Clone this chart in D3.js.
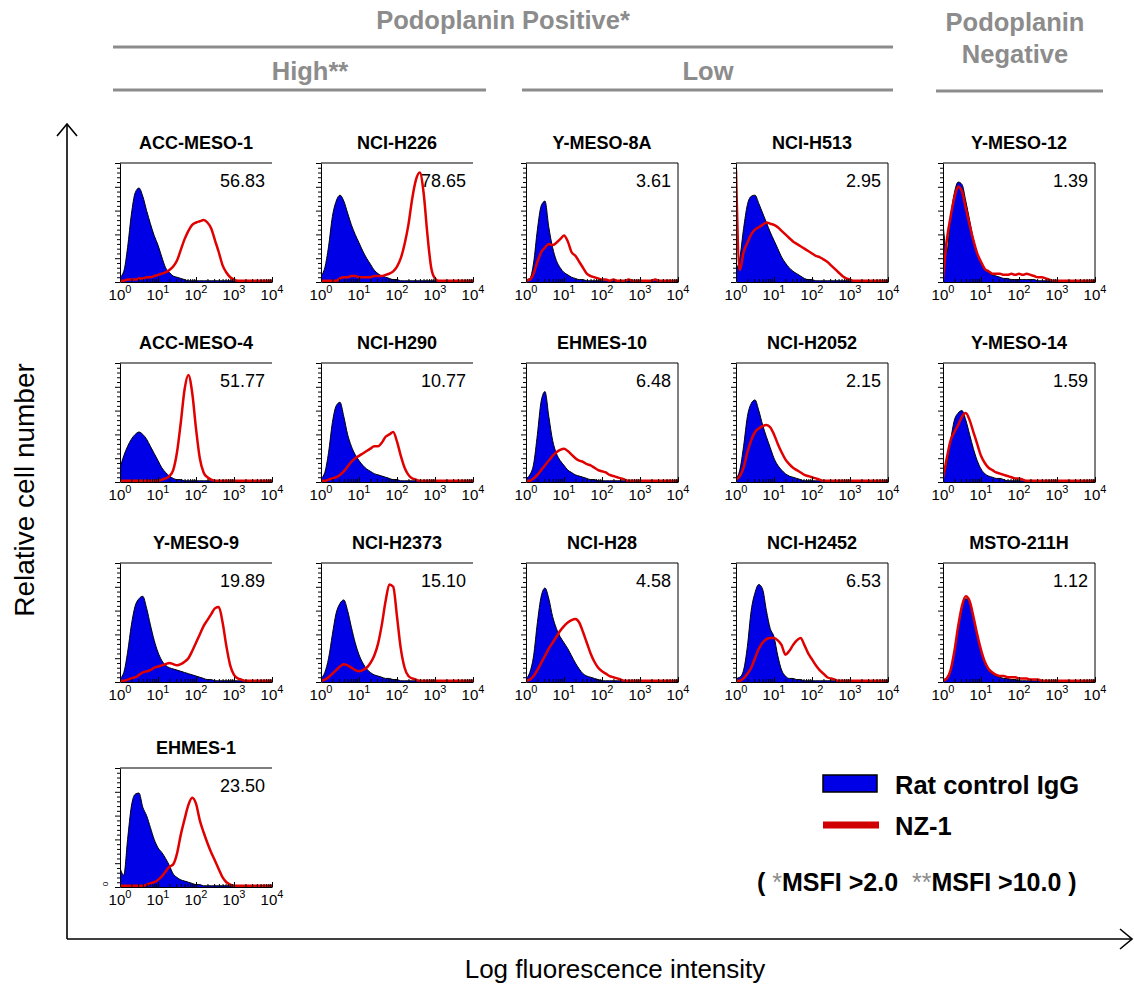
<!DOCTYPE html>
<html>
<head>
<meta charset="utf-8">
<script src="https://cdn.jsdelivr.net/npm/d3@7/dist/d3.min.js"></script>
<style>
	body { margin: 0; background: #fff; }
	svg { display: block; font-family: Arial, "Liberation Sans", sans-serif; }
</style>
</head>
<body>
<div id="chart"></div>
<script>
// cell lines, in reading order (3 rows of 5, then EHMES-1 alone)
var cellLines = [
	'ACC-MESO-1', 'NCI-H226', 'Y-MESO-8A', 'NCI-H513', 'Y-MESO-12',
	'ACC-MESO-4', 'NCI-H290', 'EHMES-10', 'NCI-H2052', 'Y-MESO-14',
	'Y-MESO-9', 'NCI-H2373', 'NCI-H28', 'NCI-H2452', 'MSTO-211H',
	'EHMES-1'
];

var msfiValues = [
	'56.83', '78.65', '3.61', '2.95', '1.39',
	'51.77', '10.77', '6.48', '2.15', '1.59',
	'19.89', '15.10', '4.58', '6.53', '1.12',
	'23.50'
];

// bin positions, log10 of fluorescence
var logBins = [
	0, 0.1, 0.2, 0.3, 0.4, 0.5, 0.6, 0.7, 0.8, 0.9,
	1, 1.1, 1.2, 1.3, 1.4, 1.5, 1.6, 1.7, 1.8, 1.9,
	2, 2.1, 2.2, 2.3, 2.4, 2.5, 2.6, 2.7, 2.8, 2.9,
	3, 3.1, 3.2, 3.3, 3.4, 3.5, 3.6, 3.7, 3.8, 3.9,
	4
];

var decadeTicks = [1, 10, 100, 1000, 10000];

// rat control IgG, % of panel height
var controlIgG = [
	[4,9,29,57,75,79,72,60,49,39, 31,21,12,8,5,4,3,2,1,1, 1,1,1,1,1,1,1,1,1,1, 1,1,1,1,1,1,1,1,1,1, 1],
	[5,12,30,55,68,73,68,58,48,40, 33,26,20,15,10,7,5,4,3,2, 2,1,1,1,1,1,1,1,1,1, 1,1,1,1,1,1,1,1,1,1, 1],
	[2,3,16,44,64,68,46,29,18,12, 8,6,4,3,2,2,1,1,1,1, 1,1,1,1,1,1,1,1,1,1, 1,1,1,1,1,1,1,1,1,1, 1],
	[10,20,45,65,72,73,66,58,50,42, 35,28,21,16,12,9,7,5,3,2, 2,1,1,1,1,1,1,1,1,1, 1,1,1,1,1,1,1,1,1,1, 1],
	[50,25,55,75,84,82,68,52,36,24, 16,11,8,6,5,4,3,3,2,2, 2,2,2,2,2,1,1,1,1,1, 1,1,1,1,1,1,1,1,1,1, 1],
	[12,22,30,36,40,42,40,36,30,24, 18,12,8,5,3,2,2,1,1,1, 1,1,1,1,1,1,1,1,1,1, 1,1,1,1,1,1,1,1,1,1, 1],
	[3,8,25,50,64,67,55,40,30,23, 18,14,11,9,7,6,5,4,3,2, 2,1,1,1,1,1,1,1,1,1, 1,1,1,1,1,1,1,1,1,1, 1],
	[3,6,15,40,68,76,55,35,24,18, 14,10,8,6,5,4,3,2,2,1, 1,1,1,1,1,1,1,1,1,1, 1,1,1,1,1,1,1,1,1,1, 1],
	[3,10,30,55,66,69,60,48,38,29, 20,14,10,7,5,4,3,2,1,1, 1,1,1,1,1,1,1,1,1,1, 1,1,1,1,1,1,1,1,1,1, 1],
	[5,15,35,52,58,60,52,40,28,18, 11,7,5,4,3,3,2,1,1,1, 1,1,1,1,1,1,1,1,1,1, 1,1,1,1,1,1,1,1,1,1, 1],
	[3,8,25,48,64,70,72,62,48,35, 25,18,14,12,11,10,9,8,7,6, 5,4,3,2,2,1,1,1,1,1, 1,1,1,1,1,1,1,1,1,1, 1],
	[3,8,20,40,58,66,69,60,46,33, 23,16,11,8,6,5,4,3,3,2, 2,1,1,1,1,1,1,1,1,1, 1,1,1,1,1,1,1,1,1,1, 1],
	[3,8,22,50,72,79,70,55,45,38, 33,28,22,16,11,7,5,4,3,2, 1,1,1,1,1,1,1,1,1,1, 1,1,1,1,1,1,1,1,1,1, 1],
	[3,4,10,30,60,75,82,78,60,45, 38,22,10,5,3,3,2,2,1,1, 1,1,1,1,1,1,1,1,1,1, 1,1,1,1,1,1,1,1,1,1, 1],
	[2,4,10,25,45,62,70,68,55,40, 26,16,10,7,5,4,3,3,2,2, 1,1,1,1,1,1,1,1,1,1, 1,1,1,1,1,1,1,1,1,1, 1],
	[16,10,40,68,78,79,67,60,50,40, 33,29,24,18,11,8,6,5,4,3, 2,2,1,1,1,1,1,1,1,1, 1,1,1,1,1,1,1,1,1,1, 1]
];

// NZ-1 antibody, % of panel height
var nz1 = [
	[1,1,2,2,2,3,3,4,4,5, 6,7,8,10,13,18,27,36,43,48, 50,51,52,50,45,35,25,14,8,4, 2,1,1,1,1,1,1,1,1,1, 1],
	[1,1,1,1,1,3,4,4,5,5, 4,4,4,4,5,5,5,6,7,9, 13,20,32,48,70,86,92,75,40,12, 3,1,1,1,1,1,1,1,1,1, 1],
	[1,2,7,17,25,29,32,31,33,36, 39,34,25,22,17,12,7,5,4,3, 2,2,1,2,1,1,1,2,1,1, 1,1,1,1,2,1,1,1,1,1, 1],
	[94,10,25,33,40,44,46,48,50,49, 48,46,43,40,37,34,32,30,28,26, 24,22,21,19,17,14,11,8,5,3, 2,1,1,1,1,1,1,1,1,1, 1],
	[2,35,55,71,80,76,62,48,35,24, 17,11,9,7,7,7,6,6,7,6, 7,6,7,6,5,4,4,3,2,1, 1,1,1,1,1,1,1,1,1,1, 1],
	[1,1,1,1,1,1,1,1,1,1, 1,2,3,5,10,25,50,78,90,75, 45,20,8,4,2,1,1,1,1,1, 1,1,1,1,1,1,1,1,1,1, 1],
	[1,1,2,3,4,6,9,13,17,20, 22,24,26,28,30,30,33,38,40,42, 34,22,12,6,3,2,1,1,1,1, 1,1,1,1,1,1,1,1,1,1, 1],
	[1,1,3,6,10,14,18,22,25,27, 28,26,23,20,18,17,15,14,12,10, 9,8,6,5,4,3,2,1,1,1, 1,1,1,1,1,1,1,1,1,1, 1],
	[2,5,12,25,35,42,45,47,48,46, 40,32,25,19,15,12,10,8,6,5, 4,3,2,1,1,1,1,1,1,1, 1,1,1,1,1,1,1,1,1,1, 1],
	[3,20,35,42,48,55,58,52,42,32, 22,16,12,10,8,7,6,5,4,3, 3,2,1,1,1,1,1,1,1,1, 1,1,1,1,1,1,1,1,1,1, 1],
	[1,1,2,3,4,6,8,9,10,12, 13,14,15,16,15,14,15,17,20,26, 33,40,47,52,57,62,63,50,30,14, 6,3,2,1,1,1,1,1,1,1, 1],
	[1,2,4,7,10,13,15,14,12,10, 9,10,12,16,22,32,48,68,82,80, 55,28,12,5,3,2,1,1,1,1, 1,1,1,1,1,1,1,1,1,1, 1],
	[1,2,5,10,16,22,28,33,38,43, 47,50,52,53,50,42,33,24,17,12, 9,7,5,4,3,2,1,1,1,1, 1,1,1,1,1,1,1,1,1,1, 1],
	[1,1,3,7,12,20,28,33,36,37, 37,35,31,23,26,31,35,37,31,24, 19,14,10,7,4,3,2,1,1,1, 1,1,1,1,1,1,1,1,1,1, 1],
	[1,3,10,26,47,64,72,68,55,40, 27,17,11,8,6,5,5,4,4,4, 3,3,3,2,2,2,1,1,1,1, 1,1,1,1,1,1,1,1,1,1, 1],
	[1,1,1,1,1,1,1,2,3,4, 6,9,13,17,19,28,44,57,69,75, 70,56,46,37,29,22,15,8,4,2, 1,1,1,1,1,1,1,1,1,1, 1]
];

var blue = '#0000e6';
var red = '#e00000';
var grey = '#8c8c8c';

var width = 1134;
var height = 985;

// panel grid
var colX = [120, 321, 526, 736, 943];
var rowY = [163, 363, 563, 768];
var panelW = 152;
var panelH = 119;

var svg = d3.select('#chart')
	.append('svg')
	.attr('width', width)
	.attr('height', height);

var xScale = d3.scaleLog()
	.domain([1, 10000])
	.range([0, panelW]);

var yScale = d3.scaleLinear()
	.domain([0, 100])
	.range([panelH, 0]);

function xAt(i) {
	return xScale(Math.pow(10, logBins[i]));
}

var areaGen = d3.area()
	.x(function(d, i) { return xAt(i); })
	.y0(panelH)
	.y1(function(d) { return yScale(d); })
	.curve(d3.curveMonotoneX);

var lineGen = d3.line()
	.x(function(d, i) { return xAt(i); })
	.y(function(d) { return yScale(d); })
	.curve(d3.curveMonotoneX);

// minor ticks for log axis
var logMinor = [];
decadeTicks.forEach(function(d) {
	for (var k = 1; k < 10; k++) {
		if (d * k <= 10000) logMinor.push(d * k);
	}
});

var yMinor = d3.range(0, 101, 4);

cellLines.forEach(function(name, i) {
	var row = i < 15 ? Math.floor(i / 5) : 3;
	var col = i < 15 ? i % 5 : 0;
	var g = svg.append('g')
		.attr('transform', 'translate(' + colX[col] + ',' + rowY[row] + ')');

	g.append('clipPath')
		.attr('id', 'clip' + i)
		.append('rect')
		.attr('width', panelW)
		.attr('height', panelH);

	var plot = g.append('g').attr('clip-path', 'url(#clip' + i + ')');

	plot.append('path')
		.datum(controlIgG[i])
		.attr('d', areaGen)
		.attr('fill', blue);

	plot.append('path')
		.datum(controlIgG[i])
		.attr('d', lineGen)
		.attr('fill', 'none')
		.attr('stroke', '#000')
		.attr('stroke-width', 1);

	plot.append('path')
		.datum(nz1[i])
		.attr('d', lineGen)
		.attr('fill', 'none')
		.attr('stroke', red)
		.attr('stroke-width', 2.5)
		.attr('stroke-linejoin', 'round');

	// frame
	g.append('line')
		.attr('x1', 0).attr('x2', panelW)
		.attr('y1', 0).attr('y2', 0)
		.attr('stroke', '#000').attr('stroke-width', 1.2);

	if (col >= 2) {
		g.append('line')
			.attr('x1', panelW).attr('x2', panelW)
			.attr('y1', 0).attr('y2', panelH)
			.attr('stroke', '#000').attr('stroke-width', 1);
	}

	var yAxis = g.append('g')
		.call(d3.axisLeft(yScale).tickValues(yMinor).tickSize(3).tickSizeOuter(0).tickFormat(''));
	yAxis.selectAll('.tick line')
		.attr('x2', function(d) { return d % 20 === 0 ? -5 : -3; });

	var xAxis = g.append('g')
		.attr('transform', 'translate(0,' + panelH + ')')
		.call(d3.axisBottom(xScale).tickValues(logMinor).tickSizeInner(-3).tickSizeOuter(0).tickFormat(''));
	xAxis.selectAll('.tick line')
		.attr('y2', function(d) { return decadeTicks.indexOf(d) >= 0 ? -5 : -3; });
	xAxis.selectAll('path, line').attr('stroke', '#000');

	var labels = g.append('g')
		.selectAll('text')
		.data(decadeTicks)
		.enter()
		.append('text')
		.attr('x', function(d) { return xScale(d); })
		.attr('y', panelH + 18)
		.attr('text-anchor', 'middle')
		.attr('font-size', 15);
	labels.append('tspan').text('10');
	labels.append('tspan')
		.attr('dy', -7)
		.attr('font-size', 11)
		.text(function(d) { return Math.round(Math.log10(d)); });

	g.append('text')
		.attr('x', panelW / 2)
		.attr('y', -14)
		.attr('text-anchor', 'middle')
		.attr('font-size', 18)
		.attr('font-weight', 'bold')
		.text(name);

	g.append('text')
		.attr('x', panelW - 7)
		.attr('y', 24)
		.attr('text-anchor', 'end')
		.attr('font-size', 18)
		.text(msfiValues[i]);

	if (name === 'EHMES-1') {
		g.append('text')
			.attr('transform', 'translate(-12,' + (panelH - 3) + ') rotate(-90)')
			.attr('font-size', 8)
			.attr('text-anchor', 'middle')
			.text('0');
	}
});

// group headers
var headers = svg.append('g')
	.attr('fill', grey)
	.attr('font-weight', 'bold')
	.attr('font-size', 25.5);

headers.append('text').attr('x', 503).attr('y', 29).attr('text-anchor', 'middle').text('Podoplanin Positive*');
headers.append('text').attr('x', 310).attr('y', 80).attr('text-anchor', 'middle').text('High**');
headers.append('text').attr('x', 708).attr('y', 80).attr('text-anchor', 'middle').text('Low');
headers.append('text').attr('x', 1015).attr('y', 31).attr('text-anchor', 'middle').text('Podoplanin');
headers.append('text').attr('x', 1015).attr('y', 63).attr('text-anchor', 'middle').text('Negative');

var headerLines = [[113, 893, 47], [113, 486, 90], [522, 893, 90], [936, 1103, 91]];
svg.append('g')
	.selectAll('line')
	.data(headerLines)
	.enter()
	.append('line')
	.attr('x1', function(d) { return d[0]; })
	.attr('x2', function(d) { return d[1]; })
	.attr('y1', function(d) { return d[2]; })
	.attr('y2', function(d) { return d[2]; })
	.attr('stroke', grey)
	.attr('stroke-width', 3);

// big axes with arrows
var axes = svg.append('g')
	.attr('stroke', '#000')
	.attr('stroke-width', 1.6)
	.attr('fill', 'none');

axes.append('path').attr('d', 'M67,939 V124');
axes.append('path').attr('d', 'M57,136 L67,124 L77,136');
axes.append('path').attr('d', 'M67,939 H1132');
axes.append('path').attr('d', 'M1120,929 L1132,939 L1120,949');

svg.append('text')
	.attr('transform', 'translate(34,490) rotate(-90)')
	.attr('text-anchor', 'middle')
	.attr('font-size', 28)
	.text('Relative cell number');

svg.append('text')
	.attr('x', 615)
	.attr('y', 978)
	.attr('text-anchor', 'middle')
	.attr('font-size', 26)
	.text('Log fluorescence intensity');

// legend
var legend = svg.append('g');

legend.append('rect')
	.attr('x', 823).attr('y', 775)
	.attr('width', 54).attr('height', 17)
	.attr('fill', blue)
	.attr('stroke', '#000')
	.attr('stroke-width', 1.5);

legend.append('line')
	.attr('x1', 823).attr('x2', 879)
	.attr('y1', 825).attr('y2', 825)
	.attr('stroke', '#d00000')
	.attr('stroke-width', 7);

legend.append('text')
	.attr('x', 895).attr('y', 794)
	.attr('font-size', 25.5).attr('font-weight', 'bold')
	.text('Rat control IgG');

legend.append('text')
	.attr('x', 895).attr('y', 835)
	.attr('font-size', 25.5).attr('font-weight', 'bold')
	.text('NZ-1');

var note = legend.append('text')
	.attr('x', 757).attr('y', 891)
	.attr('font-size', 25).attr('font-weight', 'bold')
	.attr('xml:space', 'preserve');
note.append('tspan').text('( ');
note.append('tspan').attr('fill', grey).attr('font-weight', 'normal').text('*');
note.append('tspan').text('MSFI >2.0  ');
note.append('tspan').attr('fill', grey).attr('font-weight', 'normal').text('**');
note.append('tspan').text('MSFI >10.0 )');
</script>
</body>
</html>
